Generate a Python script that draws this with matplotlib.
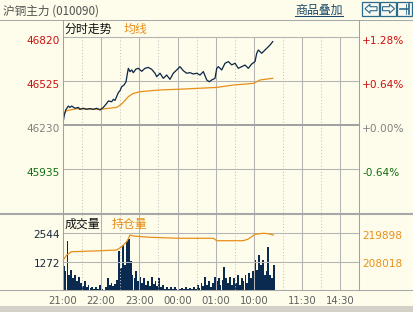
# 沪铜主力 分时走势 recreation
import numpy as np
import matplotlib.pyplot as plt
from matplotlib.lines import Line2D
from matplotlib.patches import Rectangle, Polygon
from matplotlib.transforms import ScaledTranslation

W, H = 414, 312
BG = '#FEFCEA'
GRID = '#B4B4B4'
NAVY = '#0B2545'
ORANGE = '#E8901A'
CJK = ['Noto Sans CJK SC', 'DejaVu Sans']

# minute on the trading-time axis (0 = 21:00, 240 = 01:00 / 09:00, 465 = 15:00)
price_min = [0, 2.5, 4.7, 8.8, 11.4, 14.1, 19.3, 24.5, 27.1, 32.3, 37.6, 42.8, 48, 53.3,
             58.5, 63.7, 69, 71.5, 76.8, 79.4, 82, 87.2, 89.8, 92.5, 96.1, 99.3, 100.8,
             102.9, 105.5, 108.2, 110.7, 114.9, 118.6, 123.9, 129, 134.2, 139.6, 144.7,
             147.4, 152.6, 157.7, 163, 168.2, 173.4, 178.8, 183.9, 189.1, 194.4, 199.6,
             204.8, 210.1, 215.3, 220.5, 225.8, 229.9, 233.6, 238.8, 241.5, 244, 249.3,
             254.5, 259.7, 265, 270.2, 275.3, 280.7, 285.8, 291, 296.3, 301.5, 304.2,
             306.7, 312, 317.2, 319.8, 325, 329.3]
price_val = [46230, 46297, 46331, 46357, 46348, 46357, 46342, 46348, 46335, 46342, 46335,
             46340, 46335, 46342, 46331, 46348, 46375, 46391, 46386, 46402, 46395, 46447,
             46460, 46487, 46498, 46520, 46560, 46610, 46588, 46599, 46581, 46605, 46610,
             46590, 46610, 46616, 46603, 46577, 46554, 46577, 46543, 46565, 46536, 46577,
             46599, 46621, 46594, 46577, 46581, 46572, 46577, 46565, 46588, 46532, 46520,
             46532, 46543, 46610, 46621, 46599, 46644, 46655, 46633, 46644, 46610, 46621,
             46632, 46610, 46639, 46655, 46711, 46733, 46711, 46733, 46744, 46766, 46789]

avg_min = [0, 1.5, 5.7, 21.4, 58.5, 84.6, 92.5, 102.9, 110.8, 121.2, 152.6, 189.1, 241.4,
           267.6, 298.9, 309.4, 329.2]
avg_val = [46270, 46300, 46326, 46339, 46335, 46348, 46371, 46420, 46442, 46453, 46465,
           46471, 46482, 46498, 46509, 46532, 46543]

# volume, one bar per 3 minutes
vol_val = [1050, 830, 2200, 680, 900, 540, 680, 390, 600, 310, 160, 390, 120, 210, 90, 150,
           60, 120, 30, 240, 60, 15, 120, 540, 210, 310, 160, 270, 460, 1730, 980, 2020,
           1130, 2170, 2290, 1280, 680, 540, 830, 390, 600, 310, 540, 240, 390, 160, 600,
           270, 420, 160, 540, 120, 240, 60, 150, 30, 120, 45, 150, 30, 160, 60, 90, 30,
           150, 30, 90, 60, 150, 45, 240, 90, 310, 160, 600, 240, 390, 150, 310, 570, 390,
           540, 240, 460, 1010, 540, 310, 600, 240, 540, 310, 680, 240, 540, 390, 680, 310,
           760, 540, 830, 1350, 900, 1580, 1130, 1350, 680, 830, 1900, 680, 540, 1100]

oi_min = [1, 6.2, 14.1, 37.6, 58.5, 84.7, 92.5, 100.3, 102.9, 105.5, 110.7, 136.9, 183.9,
          236.2, 241.5, 283.2, 291, 301.5, 314.6, 322.4, 330.2]
oi_val = [208644, 210728, 212104, 212300, 212500, 212812, 214188, 216272, 217500, 219064,
          218648, 218106, 217689, 217689, 216688, 216688, 217400, 219356, 219773, 219600,
          219064]

base_price = 46230
price_ticks = [46820, 46525, 46230, 45935]
vol_ticks = [1272, 2544]
oi_ticks = [208018, 219898]
time_pos = [0, 60, 120, 180, 240, 300, 375, 435]
time_lab = ['21:00', '22:00', '23:00', '00:00', '01:00', '10:00', '11:30', '14:30']
solid_x = [60, 120, 180, 240, 300, 375, 435]
dotted_x = [30, 90, 150, 210, 270, 345, 405]
total_min = 465


def box(x0, y0, x1, y1):
    return [x0 / W, 1 - y1 / H, (x1 - x0) / W, (y1 - y0) / H]


def fline(x0, y0, x1, y1, color='#A8A8A8', lw=0.75):
    fig.add_artist(Line2D([x0 / W, x1 / W], [1 - y0 / H, 1 - y1 / H],
                          transform=fig.transFigure, color=color, lw=lw))


fig = plt.figure(figsize=(W / 100, H / 100), dpi=100, facecolor=BG)

# ---- price panel ----
ax = fig.add_axes(box(62.7, 20, 359.3, 213))
ax.set_facecolor(BG)
step = price_ticks[0] - price_ticks[1]
ylo = price_ticks[-1] - step
yhi = price_ticks[0] + step * 17 / 44
ax.set_xlim(0, total_min)
ax.set_ylim(ylo, yhi)
for s in ax.spines.values():
    s.set_visible(False)
ax.vlines(solid_x, ylo, price_ticks[0], color=GRID, lw=0.75)
ax.vlines(dotted_x, ylo, price_ticks[0], color='#C4C4C4', lw=0.75, linestyles=(0, (1, 2)))
for p in price_ticks:
    ax.axhline(p, color=GRID if p != base_price else '#A0A0A0', lw=0.75 if p != base_price else 1.4)
ax.plot(avg_min, avg_val, color=ORANGE, lw=0.9)
ax.plot(price_min, price_val, color=NAVY, lw=0.9)

def pcolor(p):
    if p > base_price:
        return '#CC1010'
    if p < base_price:
        return '#107010'
    return '#808080'

ax.set_xticks([])
ax.set_yticks(price_ticks)
ax.set_yticklabels([str(p) for p in price_ticks], fontsize=7.6)
ax.tick_params(axis='y', length=0, pad=2)
for lab, p in zip(ax.get_yticklabels(), price_ticks):
    lab.set_color(pcolor(p))
    lab.set_transform(lab.get_transform() + ScaledTranslation(0, -0.025, fig.dpi_scale_trans))

axr = ax.twinx()
axr.set_ylim(ylo, yhi)
for s in axr.spines.values():
    s.set_visible(False)
axr.set_yticks(price_ticks)
axr.set_yticklabels(['%+.2f%%' % ((p - base_price) / base_price * 100) for p in price_ticks],
                    fontsize=7.6)
axr.tick_params(axis='y', length=0, pad=2.2)
for lab, p in zip(axr.get_yticklabels(), price_ticks):
    lab.set_color(pcolor(p))
    lab.set_transform(lab.get_transform() + ScaledTranslation(0, -0.025, fig.dpi_scale_trans))

# ---- volume / open interest panel ----
av = fig.add_axes(box(62.7, 214, 359.3, 290))
av.set_facecolor(BG)
vtop = vol_ticks[1] * 76 / 57
av.set_xlim(0, total_min)
av.set_ylim(0, vtop)
for s in av.spines.values():
    s.set_visible(False)
av.vlines(solid_x, 0, vtop, color=GRID, lw=0.75)
av.vlines(dotted_x, 0, vtop, color='#C4C4C4', lw=0.75, linestyles=(0, (1, 2)))
for v in vol_ticks:
    av.axhline(v, color=GRID, lw=0.75)
vol_x = np.arange(len(vol_val)) * 3 + 1.5
av.bar(vol_x, vol_val, width=2.9, color='#0A2A50', lw=0)
av.set_yticks(vol_ticks)
av.set_yticklabels([str(v) for v in vol_ticks], fontsize=7.6, color='#1A2A40')
av.tick_params(axis='y', length=0, pad=2)
for lab in av.get_yticklabels():
    lab.set_transform(lab.get_transform() + ScaledTranslation(0, -0.015, fig.dpi_scale_trans))
av.set_xticks(time_pos)
av.set_xticklabels(time_lab, fontsize=7.3, color='#606060')
av.tick_params(axis='x', length=0, pad=4)

ao = av.twinx()
d = oi_ticks[1] - oi_ticks[0]
ao.set_ylim(oi_ticks[0] - d, oi_ticks[0] + d * (vtop - vol_ticks[0]) / vol_ticks[0])
for s in ao.spines.values():
    s.set_visible(False)
ao.plot(oi_min, oi_val, color=ORANGE, lw=0.9)
ao.set_yticks(oi_ticks)
ao.set_yticklabels([str(v) for v in oi_ticks], fontsize=7.6, color=ORANGE)
ao.tick_params(axis='y', length=0, pad=2.2)
for lab in ao.get_yticklabels():
    lab.set_transform(lab.get_transform() + ScaledTranslation(0, -0.015, fig.dpi_scale_trans))

# ---- frame lines ----
fline(0, 20, W, 20)
fline(62.7, 37, 359.3, 37, color=GRID)
fline(0, 213.5, W, 213.5, color='#A8A8A8', lw=1.5)
fline(0, 290, W, 290, color='#A8A8A8')
fline(62.7, 20, 62.7, 290, color='#A0A0A0')
fline(359.3, 20, 359.3, 290, color='#A0A0A0')
fig.add_artist(Rectangle((0, 0), 1, 6 / H, transform=fig.transFigure,
                         facecolor='#D4D0C8', edgecolor='none'))

# ---- texts ----
fig.text(3 / W, 1 - 11 / H, '沪铜主力 (010090)', family=CJK, fontsize=8.4,
         color='#505050', va='center')
fig.text(295 / W, 1 - 10 / H, '商品叠加', family=CJK, fontsize=8.6,
         color='#1A4A6A', va='center')
fline(295, 16, 343, 16, color='#1A4A6A')
fig.text(65 / W, 1 - 29 / H, '分时走势', family=CJK, fontsize=8.6, color='#101010', va='center')
fig.text(124 / W, 1 - 29 / H, '均线', family=CJK, fontsize=8.6, color=ORANGE, va='center')
fig.text(65 / W, 1 - 224.5 / H, '成交量', family=CJK, fontsize=8.6, color='#101010', va='center')
fig.text(112 / W, 1 - 224.5 / H, '持仓量', family=CJK, fontsize=8.6, color=ORANGE, va='center')

# ---- toolbar icons ----
IC = '#2B6A8A'
for bx0, bx1 in [(362.5, 379), (380, 396.5), (397.5, 412.5)]:
    fig.add_artist(Rectangle((bx0 / W, 1 - 15.5 / H), (bx1 - bx0) / W, 13.5 / H,
                             transform=fig.transFigure, facecolor='#F8FAF2',
                             edgecolor=IC, lw=0.9))
yc = 8.7
left_arrow = [(365, yc), (370, yc - 4.5), (370, yc - 2), (377, yc - 2), (377, yc + 2),
              (370, yc + 2), (370, yc + 4.5)]
right_arrow = [(394.5, yc), (389.5, yc - 4.5), (389.5, yc - 2), (382.5, yc - 2),
               (382.5, yc + 2), (389.5, yc + 2), (389.5, yc + 4.5)]
for pts in (left_arrow, right_arrow):
    fig.add_artist(Polygon([(x / W, 1 - y / H) for x, y in pts], closed=True,
                           transform=fig.transFigure, facecolor='none', edgecolor=IC, lw=0.8))
fline(400, yc, 408, yc, color=IC, lw=1.2)
fline(409.5, 4, 409.5, 14, color=IC, lw=1.2)
fline(406, 4, 406, 14, color=IC, lw=0.6)

fig.savefig('out.png', dpi=100, facecolor=BG)
